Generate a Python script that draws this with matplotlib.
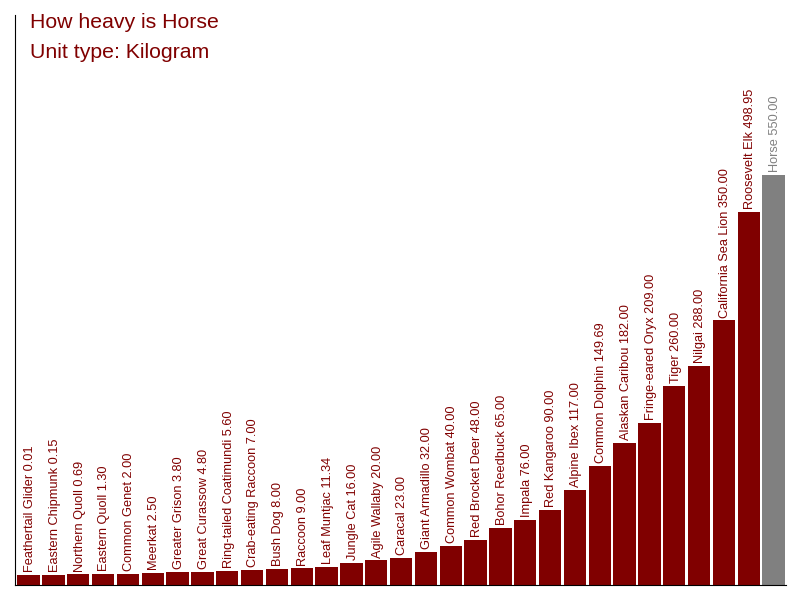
import matplotlib.pyplot as plt
import numpy as np

# animal weights (kg)
animals = ["Feathertail Glider", "Eastern Chipmunk", "Northern Quoll", "Eastern Quoll",
           "Common Genet", "Meerkat", "Greater Grison", "Great Curassow",
           "Ring-tailed Coatimundi", "Crab-eating Raccoon", "Bush Dog", "Raccoon",
           "Leaf Muntjac", "Jungle Cat", "Agile Wallaby", "Caracal", "Giant Armadillo",
           "Common Wombat", "Red Brocket Deer", "Bohor Reedbuck", "Impala",
           "Red Kangaroo", "Alpine Ibex", "Common Dolphin", "Alaskan Caribou",
           "Fringe-eared Oryx", "Tiger", "Nilgai", "California Sea Lion",
           "Roosevelt Elk", "Horse"]
weights = [0.01, 0.15, 0.69, 1.30, 2.00, 2.50, 3.80, 4.80, 5.60, 7.00, 8.00, 9.00,
           11.34, 16.00, 20.00, 23.00, 32.00, 40.00, 48.00, 65.00, 76.00, 90.00,
           117.00, 149.69, 182.00, 209.00, 260.00, 288.00, 350.00, 498.95, 550.00]
highlight = "Horse"

plt.rcParams["font.family"] = ["Liberation Sans", "DejaVu Sans"]

fig = plt.figure(figsize=(8, 6), dpi=100)
ax = fig.add_axes([0.01875, 0.025, 0.96375, 0.95])

base = 13.75  # bars start a little below zero so tiny values stay visible
vals = np.array(weights)
x = np.arange(len(animals))
colors = ["#808080" if a == highlight else "#800000" for a in animals]

ax.bar(x, vals + base, bottom=-base, width=0.9, color=colors)
for xi, a, v, c in zip(x, animals, vals, colors):
    ax.text(xi + 0.05, v + 4, "%s %.2f" % (a, v), rotation=90, ha="center", va="bottom",
            fontsize=9.2, color=c)

ax.set_xlim(-0.55, len(animals) - 0.5)
ax.set_ylim(-base, 770)
ax.set_xticks([])
ax.set_yticks([])
for s in ["top", "right"]:
    ax.spines[s].set_visible(False)

fig.text(30 / 800, 1 - 23 / 600, "How heavy is Horse", fontsize=15.3, color="#800000", va="center")
fig.text(30 / 800, 1 - 53 / 600, "Unit type: Kilogram", fontsize=15.3, color="#800000", va="center")

plt.savefig("out.png", dpi=100)
